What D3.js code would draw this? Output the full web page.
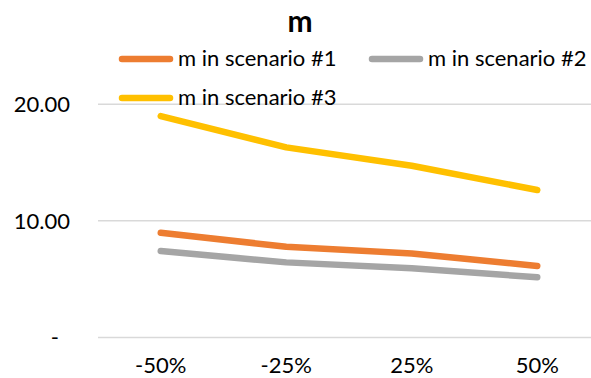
<!DOCTYPE html>
<html>
<head>
<meta charset="utf-8">
<script src="https://cdn.jsdelivr.net/npm/d3@7/dist/d3.min.js"></script>
<style>
  html, body { margin: 0; padding: 0; background: #fff; }
  svg { display: block; font-family: Lato, "Open Sans", sans-serif; }
</style>
</head>
<body>
<svg id="chart" width="591" height="378"></svg>
<script>
// Sensitivity categories and the three scenario series
const categories = ["-50%", "-25%", "25%", "50%"];
const scenario1 = [8.98, 7.78, 7.21, 6.13];
const scenario2 = [7.41, 6.44, 5.93, 5.16];
const scenario3 = [18.98, 16.30, 14.72, 12.64];
const seriesNames = ["m in scenario #1", "m in scenario #2", "m in scenario #3"];
const seriesColors = ["#ED7D31", "#A5A5A5", "#FFC000"];
const yTicks = [0, 10, 20];
const yTickLabels = ["-", "10.00", "20.00"];
const chartTitle = "m";

const series = [scenario1, scenario2, scenario3].map((values, i) => ({
  name: seriesNames[i], color: seriesColors[i], values
}));

const svg = d3.select("#chart");

const plot = { left: 98, right: 600, top: 104.2, bottom: 337.5 };

const x = d3.scaleBand().domain(categories).range([plot.left, plot.right]);
const y = d3.scaleLinear().domain([0, 20]).range([plot.bottom, plot.top]);
const cx = c => x(c) + x.bandwidth() / 2;

// Horizontal gridlines
svg.append("g")
  .selectAll("line")
  .data(yTicks)
  .join("line")
  .attr("x1", plot.left)
  .attr("x2", plot.right)
  .attr("y1", d => y(d))
  .attr("y2", d => y(d))
  .attr("stroke", "#D9D9D9")
  .attr("stroke-width", 1.5);

// Value axis labels (accounting style: zero shown as a dash)
svg.append("g")
  .selectAll("text")
  .data(yTicks)
  .join("text")
  .attr("x", d => d === 0 ? 59 : 70)
  .attr("y", d => y(d))
  .attr("dy", "0.36em")
  .attr("text-anchor", "end")
  .attr("font-size", 22)
  .attr("fill", "#000")
  .text((d, i) => yTickLabels[i]);

// Category axis labels
svg.append("g")
  .selectAll("text")
  .data(categories)
  .join("text")
  .attr("x", d => cx(d))
  .attr("y", 373)
  .attr("text-anchor", "middle")
  .attr("font-size", 22)
  .attr("fill", "#000")
  .text(d => d);

// Series lines
const line = d3.line()
  .x((v, i) => cx(categories[i]))
  .y(v => y(v));

svg.append("g")
  .selectAll("path")
  .data(series)
  .join("path")
  .attr("d", d => line(d.values))
  .attr("fill", "none")
  .attr("stroke", d => d.color)
  .attr("stroke-width", 6.5)
  .attr("stroke-linecap", "round")
  .attr("stroke-linejoin", "round");

// Title
svg.append("text")
  .attr("x", 300)
  .attr("y", 32)
  .attr("text-anchor", "middle")
  .attr("font-size", 30)
  .attr("font-weight", "bold")
  .attr("fill", "#000")
  .text(chartTitle);

// Legend: two items on the first row, one on the second
const legendPos = [
  { x: 119, y: 59 },
  { x: 369, y: 59 },
  { x: 119, y: 98 }
];
const legend = svg.append("g")
  .selectAll("g")
  .data(series)
  .join("g")
  .attr("transform", (d, i) => `translate(${legendPos[i].x},${legendPos[i].y})`);

legend.append("line")
  .attr("x1", 3)
  .attr("x2", 51)
  .attr("stroke", d => d.color)
  .attr("stroke-width", 6.5)
  .attr("stroke-linecap", "round");

legend.append("text")
  .attr("x", 59)
  .attr("dy", "0.33em")
  .attr("font-size", 22)
  .attr("fill", "#000")
  .text(d => d.name);
</script>
</body>
</html>
